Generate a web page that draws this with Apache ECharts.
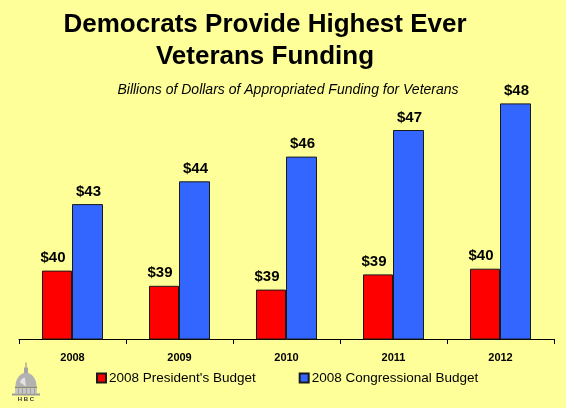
<!DOCTYPE html>
<html>
<head>
<meta charset="utf-8">
<script src="https://cdn.jsdelivr.net/npm/echarts@6/dist/echarts.min.js"></script>
<style>
  html, body { margin: 0; padding: 0; background: #FFFF99; }
  #chart { width: 566px; height: 408px; }
</style>
</head>
<body>
<div id="chart"></div>
<script>
// Fiscal years shown on the category axis
const years = ['2008', '2009', '2010', '2011', '2012'];
// Appropriated veterans funding, billions of dollars
const presidentsBudget = [39.6, 38.8, 38.6, 39.4, 39.7];
const congressionalBudget = [43.1, 44.3, 45.6, 47.0, 48.4];
const seriesNames = ["2008 President's Budget", '2008 Congressional Budget'];

const FONT = 'Liberation Sans, Arial, sans-serif';
const chart = echarts.init(document.getElementById('chart'));

const dollarLabel = (offsetX) => ({
  show: true,
  position: 'top',
  distance: 5,
  offset: [offsetX, 0],
  fontFamily: FONT,
  fontSize: 15,
  fontWeight: 'bold',
  color: '#000',
  formatter: p => '$' + Math.round(p.value)
});

// column strokes of the emblem's drum
const drumColumns = [3, 7, 11, 15, 19].map(x => ({
  type: 'rect', shape: { x: x, y: 26, width: 0.8, height: 5 }, style: { fill: '#959595' }
}));

chart.setOption({
  backgroundColor: '#FFFF99',
  animation: false,
  title: [
    {
      text: 'Democrats Provide Highest Ever\nVeterans Funding',
      left: 265, top: 9, padding: 0,
      textAlign: 'center',
      textStyle: { fontFamily: FONT, fontSize: 26, fontWeight: 'bold', color: '#000', lineHeight: 32 }
    },
    {
      text: 'Billions of Dollars of Appropriated Funding for Veterans',
      left: 288, top: 83, padding: 0,
      textAlign: 'center',
      textStyle: { fontFamily: FONT, fontSize: 14, fontStyle: 'italic', fontWeight: 'normal', color: '#000' }
    }
  ],
  legend: {
    data: seriesNames,
    left: 96, top: 371, padding: 0,
    itemWidth: 9, itemHeight: 9, itemGap: 43,
    icon: 'rect',
    textStyle: { fontFamily: FONT, fontSize: 13.5, color: '#000', padding: [0, 0, 0, -2] }
  },
  grid: { left: 19, right: 12, top: 73, bottom: 69, containLabel: false },
  xAxis: {
    type: 'category',
    data: years,
    boundaryGap: true,
    axisLine: { lineStyle: { color: '#000', width: 1 } },
    axisTick: { show: true, length: 5, lineStyle: { color: '#000' } },
    axisLabel: { fontFamily: FONT, fontSize: 11, fontWeight: 'bold', color: '#000', margin: 13 }
  },
  yAxis: {
    type: 'value', min: 36, max: 50, show: false,
    splitLine: { show: false }
  },
  series: [
    {
      name: seriesNames[0], type: 'bar', data: presidentsBudget,
      barWidth: 30, barGap: '0%',
      itemStyle: { color: '#FF0000', borderColor: '#1a1a1a', borderWidth: 1 },
      label: dollarLabel(-4)
    },
    {
      name: seriesNames[1], type: 'bar', data: congressionalBudget,
      barWidth: 31, barGap: '0%',
      itemStyle: { color: '#3366FF', borderColor: '#1a1a1a', borderWidth: 1 },
      label: dollarLabel(1)
    }
  ],
  graphic: [
    {
      // small capitol-dome emblem in the lower left corner
      type: 'group', left: 12, top: 360,
      children: [
        { type: 'line', shape: { x1: 11, y1: 0, x2: 11, y2: 6 }, style: { stroke: '#9a9a9a', lineWidth: 1.2 } },
        { type: 'rect', shape: { x: 9, y: 5, width: 4, height: 6 }, style: { fill: '#a4a4a4' } },
        { type: 'sector', shape: { cx: 11, cy: 24, r: 10.5, r0: 0, startAngle: Math.PI, endAngle: Math.PI * 2 },
          scaleY: 1.3, originX: 11, originY: 24, style: { fill: '#b2b2b2' } },
        { type: 'sector', shape: { cx: 11, cy: 24, r: 7, r0: 0, startAngle: Math.PI * 1.15, endAngle: Math.PI * 1.45 },
          scaleY: 1.3, originX: 11, originY: 24, style: { fill: '#e2e2e2' } },
        { type: 'rect', shape: { x: 0, y: 24, width: 22, height: 2 }, style: { fill: '#8a8a8a' } },
        { type: 'rect', shape: { x: 0, y: 26, width: 22, height: 5 }, style: { fill: '#c6c6c6' } },
        ...drumColumns,
        { type: 'rect', shape: { x: -3, y: 31, width: 28, height: 2 }, style: { fill: '#9a9a9a' } },
        { type: 'text', x: 11, y: 34, style: { text: 'H B C', fontFamily: FONT, fontSize: 6, fontWeight: 'bold', fill: '#333', textAlign: 'center' } }
      ]
    }
  ]
});
</script>
</body>
</html>
